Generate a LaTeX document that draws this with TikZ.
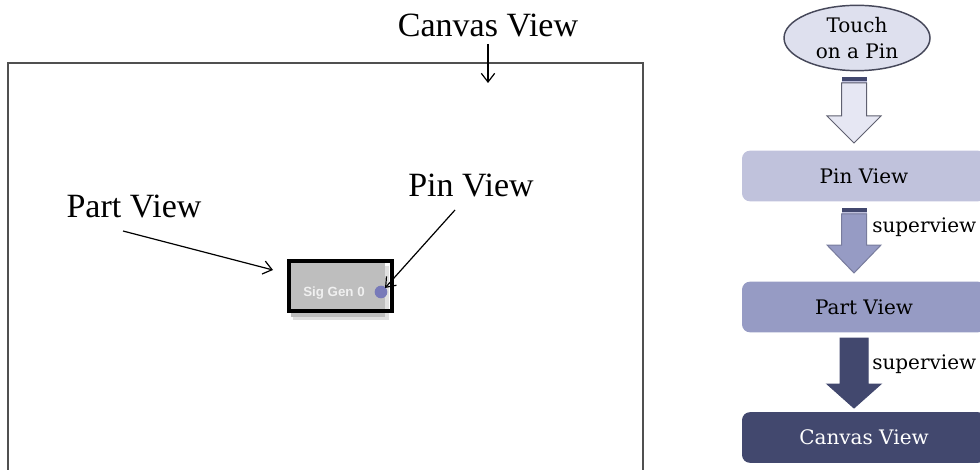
\documentclass[tikz,border=0pt]{standalone}
\usepackage{fontspec}
\setmainfont{Liberation Serif}
\newfontfamily\flowfont{DejaVu Serif}
\newfontfamily\uifont{Liberation Sans}
\usetikzlibrary{arrows.meta,shapes.geometric}
\definecolor{ellfill}{RGB}{222,224,238}
\definecolor{ellline}{RGB}{70,72,90}
\definecolor{pinbox}{RGB}{192,194,220}
\definecolor{partbox}{RGB}{150,155,196}
\definecolor{canvbox}{RGB}{66,72,110}
\definecolor{arrlight}{RGB}{230,231,243}
\definecolor{arrline}{RGB}{95,96,112}
\definecolor{stripe}{RGB}{66,72,110}
\definecolor{stripelight}{RGB}{190,192,220}
\definecolor{partgray}{RGB}{190,190,190}
\definecolor{pincol}{RGB}{120,122,185}
\definecolor{canvline}{RGB}{80,80,80}
\tikzset{
  biglabel/.style={inner sep=0pt, font=\fontsize{25.5}{30}\selectfont},
  ptr/.style={line width=0.9pt, -{Straight Barb[length=6.5pt,width=10pt,line width=0.9pt]}},
  flowtext/.style={font=\flowfont\fontsize{15}{19.5}\selectfont},
  flowbox/.style={flowtext, rounded corners=6pt, minimum width=183pt, minimum height=38pt, inner sep=0pt},
}
\newcommand\blockarrow[7]{%
  % #1 top y, #2 body start y, #3 head y, #4 tip y, #5 fill, #6 outline, #7 half shaft
  \filldraw[fill=#5, draw=#6, line width=0.75pt]
    ({854-#7},#2) -- ({854+#7},#2) -- ({854+#7},#3) -- (881,#3) -- (854,#4)
    -- (827,#3) -- ({854-#7},#3) -- cycle;
}
\begin{document}
\begin{tikzpicture}[x=0.75pt,y=-0.75pt]
\useasboundingbox (0,0) rectangle (980,470);
\clip (0,0) rectangle (980,470);

% ---------- left: canvas ----------
\draw[canvline, line width=1.1pt] (8,63) rectangle (643,490);
\node[biglabel, anchor=base] (canvaslbl) at (488,37) {Canvas View};
\coordinate (canvastip) at (488,83);
\draw[ptr] ([yshift=-4.5pt]canvaslbl.south) -- (canvastip);

\node[biglabel, anchor=base] (partlbl) at (134,218) {Part View};
\node[biglabel, anchor=base] (pinlbl) at (471,197) {Pin View};

% part widget
\fill[black!12] (293,266) rectangle (389,320);
\fill[partgray] (291,263) rectangle (385,317);
\node[circle, fill=pincol, minimum size=9.5pt, inner sep=0pt] (pin) at (381,292) {};
\node[text=white!94!black, font=\uifont\bfseries\fontsize{10}{12}\selectfont, inner sep=0pt] (sig) at (334,293) {Sig Gen 0};
\node[draw=black, line width=3pt, minimum width=77.25pt, minimum height=37.5pt, inner sep=0pt] (part) at (340.5,286) {};

\coordinate (partstart) at (123,231);
\coordinate (partend) at (273,270);
\draw[ptr] (partstart) -- (partend);
\coordinate (pinstart) at (455,210);
\coordinate (pinend) at (385,288);
\draw[ptr] (pinstart) -- (pinend);

% ---------- right: flow ----------
\node[ellipse, draw=ellline, fill=ellfill, line width=1.1pt, minimum width=109.5pt, minimum height=49pt, inner sep=0pt, align=center, flowtext] (touch) at (857,38) {Touch\\on a Pin};

\node[flowbox, fill=pinbox] (pinv) at (864,176) {Pin View};
\node[flowbox, fill=partbox] (partv) at (864,307) {Part View};
\node[flowbox, fill=canvbox, text=white] (canvv) at (864,437.5) {Canvas View};

% arrow 1
\fill[stripe] (841.5,77) rectangle (866.5,81);
\fill[stripelight] (841.5,81) rectangle (866.5,83);
\blockarrow{77}{83}{116}{143}{arrlight}{arrline}{12.5}
% arrow 2
\fill[stripe] (841.5,208) rectangle (866.5,212);
\fill[stripelight] (841.5,212) rectangle (866.5,214);
\blockarrow{208}{214}{245}{273}{partbox}{partbox!80!black}{12.5}
% arrow 3
\blockarrow{338}{338}{384}{408}{canvbox}{canvbox}{14}

\node[flowtext, anchor=base west, inner sep=0pt] (sv1) at (872,233) {superview};
\node[flowtext, anchor=base west, inner sep=0pt] (sv2) at (872,369) {superview};
\end{tikzpicture}
\end{document}
